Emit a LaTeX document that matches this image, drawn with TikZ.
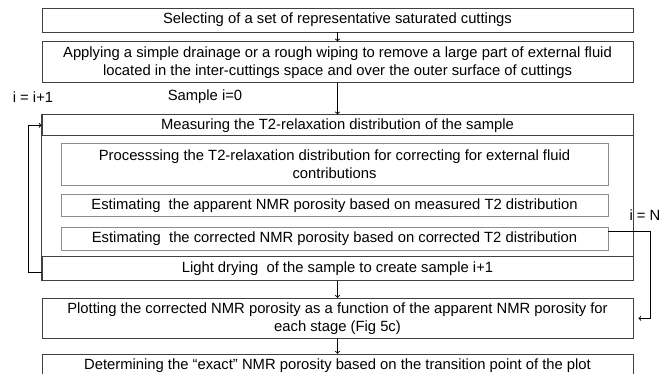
\documentclass[tikz,border=0pt]{standalone}
\usepackage{fontspec}
\setmainfont{Liberation Sans}
\usetikzlibrary{positioning}

\begin{document}
\begin{tikzpicture}[x=1pt, y=1pt, node distance={9pt}, font=\fontsize{14.8}{18}\selectfont,
  main/.style = {draw=black!75, line width=0.9pt, minimum width=591pt, minimum height=24pt, inner sep=0pt, align=center},
  inner/.style = {main, draw=black!45, minimum width=547pt},
  link/.style = {->, line width=0.9pt}]
\useasboundingbox (0,0) rectangle (665,-373);
\node[main] (1) at (337.5,-20) {Selecting of a set of representative saturated cuttings};
\node[main, minimum height=41pt] (2) [below=9pt of 1] {Applying a simple drainage or a rough wiping to remove a large part of external fluid\\located in the inter-cuttings space and over the outer surface of cuttings};
\node[main, minimum height=21pt] (3) [below=31pt of 2] {Measuring the T2-relaxation distribution of the sample};
\node[inner, minimum height=42pt] (4) [below=7pt of 3, xshift=-3pt] {Processsing the T2-relaxation distribution for correcting for external fluid\\contributions};
\node[inner, minimum height=22pt] (5) [below=8pt of 4] {Estimating~ the apparent NMR porosity based on measured T2 distribution};
\node[inner, minimum height=23pt] (6) [below=10pt of 5] {Estimating~ the corrected NMR porosity based on corrected T2 distribution};
\node[main] (7) [below=5pt of 6, xshift=3pt] {Light drying~ of the sample to create sample i+1};
\node[main, minimum height=40pt] (8) [below=17pt of 7] {Plotting the corrected NMR porosity as a function of the apparent NMR porosity for\\each stage (Fig 5c)};
\node[main, minimum height=23pt] (9) [below=15pt of 8] {Determining the “exact” NMR porosity based on the transition point of the plot};
\node (inc) at (33,-97) {i = i+1};
\node (start) at (205,-97) {Sample i=0};
\node (stop) at (645,-215) {i = N};
\draw[black!75, line width=0.9pt] (3.north west) rectangle (7.south east);
\draw[link] (1) -- (2);
\draw[link] (2) -- (3);
\draw[link] (7) -- (8);
\draw[link] (8) -- (9);
\draw[link] ([yshift=-4pt]7.west) -- ++(-13pt,0) |- (3.west);
\draw[link] ([yshift=8pt]6.east) -- ++(42pt,0) |- ([xshift=5pt]8.east);
\end{tikzpicture}
\end{document}
